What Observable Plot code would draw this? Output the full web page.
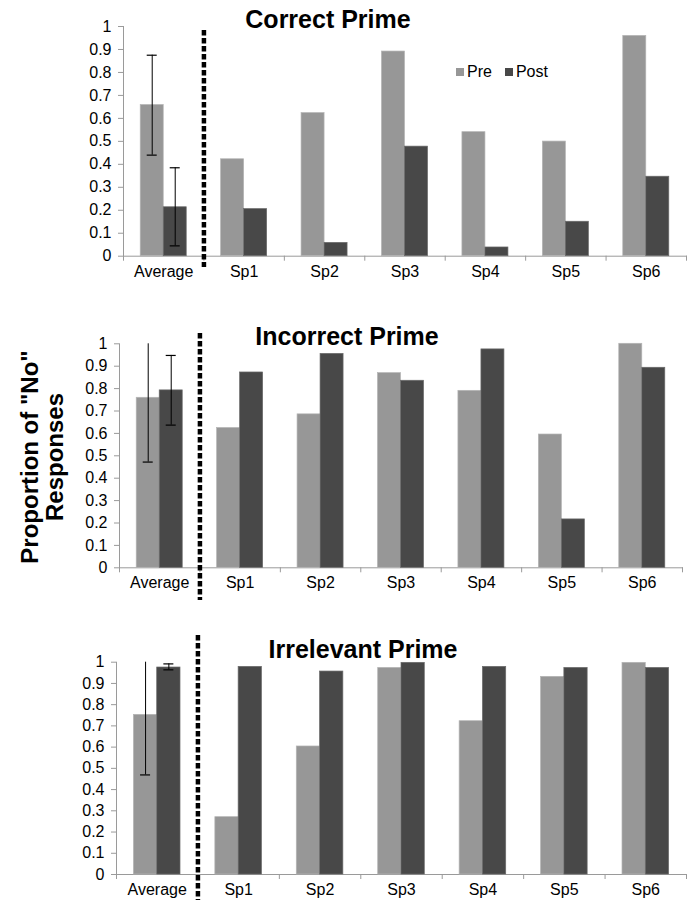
<!DOCTYPE html>
<html><head><meta charset="utf-8">
<script src="https://cdn.jsdelivr.net/npm/d3@7"></script>
<script src="https://cdn.jsdelivr.net/npm/@observablehq/plot@0.6"></script>
<style>
body{margin:0;background:#fff;font-family:"Liberation Sans",Arial,sans-serif;}
#root{position:relative;width:695px;height:902px;overflow:hidden;background:#fff;}
.panel{position:absolute;left:0;}
.panel svg text{fill:#000;}
.title{position:absolute;font-weight:bold;font-size:25px;line-height:25px;white-space:nowrap;transform:translateX(-50%);color:#000;}
.ylab{position:absolute;font-weight:bold;font-size:24px;line-height:25px;white-space:nowrap;text-align:center;transform:translate(-50%,-50%) rotate(-90deg);color:#000;}
.legend{position:absolute;display:flex;align-items:center;font-size:16px;line-height:16px;color:#000;}
.legend .sw{width:8px;height:8px;margin-right:3px;}
.legend .item{display:flex;align-items:center;margin-right:13px;}
</style></head><body><div id="root"></div>
<script>
// ---- data ----
const categories = ["Average","Sp1","Sp2","Sp3","Sp4","Sp5","Sp6"];
const series = ["Pre","Post"];
const colors = ["#979797","#484848"];
const panelTitles = ["Correct Prime","Incorrect Prime","Irrelevant Prime"];
const yTitle = ['Proportion of "No"', 'Responses'];
const yTicks = [0,0.1,0.2,0.3,0.4,0.5,0.6,0.7,0.8,0.9,1];

const correctPre    = [0.658,0.422,0.623,0.891,0.540,0.499,0.959];
const correctPost   = [0.213,0.205,0.058,0.477,0.038,0.150,0.346];
const incorrectPre  = [0.759,0.624,0.685,0.869,0.790,0.595,1.000];
const incorrectPost = [0.792,0.872,0.955,0.835,0.975,0.216,0.893];
const irrelevantPre = [0.752,0.270,0.603,0.973,0.722,0.931,0.997];
const irrelevantPost= [0.975,0.978,0.956,0.997,0.978,0.973,0.973];

// error bars for "Average" [low, high] (high of 1 = clipped at axis max)
const correctErrPre    = [0.440,0.875];
const correctErrPost   = [0.045,0.385];
const incorrectErrPre  = [0.472,1.000];
const incorrectErrPost = [0.637,0.948];
const irrelevantErrPre = [0.469,1.000];
const irrelevantErrPost= [0.964,0.992];

const panelData = [
  {title: panelTitles[0], pre: correctPre, post: correctPost, errPre: correctErrPre, errPost: correctErrPost},
  {title: panelTitles[1], pre: incorrectPre, post: incorrectPost, errPre: incorrectErrPre, errPost: incorrectErrPost},
  {title: panelTitles[2], pre: irrelevantPre, post: irrelevantPost, errPre: irrelevantErrPre, errPost: irrelevantErrPost}
];

// ---- layout ----
const W = 695;
const layout = [
  {top:0,   height:290, mt:26,   mb:34.3, ml:123, mr:9,  titleX:328, titleTop:6.7,   dashTop:4,     dashBottom:-11.3},
  {top:290, height:310, mt:53.3, mb:32.7, ml:119, mr:13, titleX:347, titleTop:323.5, dashTop:-10.3, dashBottom:-32.7},
  {top:600, height:302, mt:61.7, mb:28,   ml:116, mr:9,  titleX:363, titleTop:636.5, dashTop:-26.7, dashBottom:-26}
];
const barFrac = 0.286;   // each bar's share of a category band
const capW = 10;
const axisGray = "#9a9a9a";

const root = document.getElementById("root");

panelData.forEach((p, k) => {
  const L = layout[k];
  const bw = (W - L.ml - L.mr) / categories.length;
  const rows = categories.map((c, i) => ({cat: c, pre: p.pre[i], post: p.post[i]}));
  const err = [
    {cat: categories[0], s: 0, lo: p.errPre[0], hi: p.errPre[1]},
    {cat: categories[0], s: 1, lo: p.errPost[0], hi: p.errPost[1]}
  ];
  const caps = [];
  err.forEach(e => {
    caps.push({cat: e.cat, s: e.s, v: e.lo});
    if (e.hi < 1) caps.push({cat: e.cat, s: e.s, v: e.hi});
  });
  const off = bw * barFrac / 2; // bar centre offset from band centre
  const capInset = s => s === 0
    ? {insetLeft: bw/2 - off - capW/2, insetRight: bw/2 + off - capW/2}
    : {insetLeft: bw/2 + off - capW/2, insetRight: bw/2 - off - capW/2};

  const chart = Plot.plot({
    width: W, height: L.height,
    marginTop: L.mt, marginBottom: L.mb, marginLeft: L.ml, marginRight: L.mr,
    style: {fontSize: "16px", fontFamily: '"Liberation Sans", Arial, sans-serif', color: axisGray, background: "transparent", overflow: "visible"},
    x: {type: "band", domain: categories, padding: 0, round: false, tickSize: 0, tickPadding: 9, label: null, line: true},
    y: {domain: [0, 1], ticks: yTicks, tickFormat: d3.format("~g"), tickSize: 5, tickPadding: 7, label: null, line: true},
    marks: [
      Plot.barY(rows, {x: "cat", y: "pre", fill: colors[0], stroke: "#b4b4b4", strokeWidth: 0.7,
        insetLeft: bw/2 - bw*barFrac, insetRight: bw/2}),
      Plot.barY(rows, {x: "cat", y: "post", fill: colors[1], stroke: "#6a6a6a", strokeWidth: 0.7,
        insetLeft: bw/2, insetRight: bw/2 - bw*barFrac}),
      // error bars
      Plot.ruleX(err.filter(e => e.s === 0), {x: "cat", y1: "lo", y2: "hi", dx: -off, stroke: "#000", strokeWidth: 1}),
      Plot.ruleX(err.filter(e => e.s === 1), {x: "cat", y1: "lo", y2: "hi", dx: off, stroke: "#000", strokeWidth: 1}),
      Plot.tickY(caps.filter(c => c.s === 0), {x: "cat", y: "v", stroke: "#000", strokeWidth: 1.2, ...capInset(0)}),
      Plot.tickY(caps.filter(c => c.s === 1), {x: "cat", y: "v", stroke: "#000", strokeWidth: 1.2, ...capInset(1)}),
      // category boundary ticks below the baseline
      Plot.ruleX(categories, {x: d => d, y1: 0, y2: 0, dx: -bw/2, insetBottom: -5, stroke: axisGray}),
      Plot.ruleX(categories.slice(-1), {x: d => d, y1: 0, y2: 0, dx: bw/2, insetBottom: -5, stroke: axisGray}),
      // dashed separator between Average and the individual participants
      Plot.ruleX(categories.slice(1, 2), {x: d => d, dx: -bw/2, stroke: "#000", strokeWidth: 4.5,
        strokeDasharray: "5.5,2.5", insetTop: L.dashTop, insetBottom: L.dashBottom})
    ]
  });
  const holder = document.createElement("div");
  holder.className = "panel";
  holder.style.top = L.top + "px";
  holder.appendChild(chart);
  root.appendChild(holder);

  const t = document.createElement("div");
  t.className = "title";
  t.textContent = p.title;
  t.style.left = L.titleX + "px";
  t.style.top = L.titleTop + "px";
  root.appendChild(t);
});

// legend (panel 1)
const lg = document.createElement("div");
lg.className = "legend";
lg.style.left = "456px";
lg.style.top = "64px";
series.forEach((s, i) => {
  const it = document.createElement("div");
  it.className = "item";
  const sw = document.createElement("div");
  sw.className = "sw";
  sw.style.background = colors[i];
  const tx = document.createElement("span");
  tx.textContent = s;
  it.appendChild(sw); it.appendChild(tx);
  lg.appendChild(it);
});
root.appendChild(lg);

// shared y-axis title
const yl = document.createElement("div");
yl.className = "ylab";
yl.innerHTML = yTitle.map(s => s.replace(/&/g,"&amp;").replace(/</g,"&lt;")).join("<br>");
yl.style.left = "42px";
yl.style.top = "457px";
root.appendChild(yl);
</script>
</body></html>
